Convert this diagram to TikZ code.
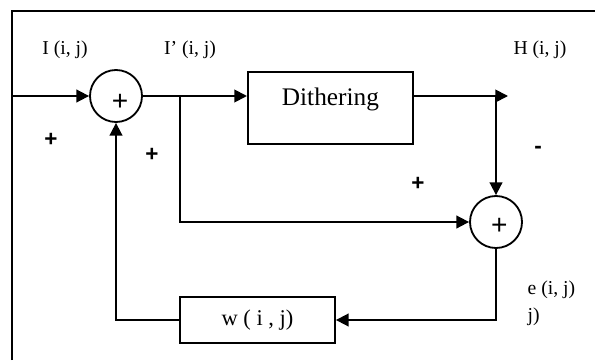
\documentclass[tikz,border=0pt]{standalone}
\usepackage{fontspec}
\setmainfont{Liberation Serif}
\newfontfamily\signfont{Liberation Sans}
\usetikzlibrary{arrows.meta}

\begin{document}
\begin{tikzpicture}[>={Triangle[length=9pt,width=9pt]},line width=1.3pt,
    sum/.style={draw,circle,minimum size=1.3cm,inner sep=0pt},
    blk/.style={draw,inner sep=0pt},
    lab/.style={font=\fontsize{14}{16}\selectfont},
    sgn/.style={font=\signfont\fontsize{20}{22}\selectfont},
    bsgn/.style={font=\signfont\bfseries\fontsize{16}{18}\selectfont}]
    \useasboundingbox (0,0) rectangle (14.875,9);
    % 边框
    \draw (0.3,0) -- (0.3,8.725) -- (14.875,8.725);

    % 加法器
    \node[sum] (s1) at (2.9,6.6) {};
    \node[sum] (s2) at (12.4,3.45) {};
    \node[sgn] (p1) at (3.0,6.45) {+};
    \node[sgn] (p2) at (12.48,3.35) {+};

    % 方框
    \node[blk,anchor=north west,minimum width=4.125cm,text height=0.85cm,
        text depth=0.95cm,font=\fontsize{18}{20}\selectfont] (dith) at (6.175,7.225) {Dithering};
    \node[blk,minimum width=3.875cm,minimum height=1.15cm,
        font=\fontsize{16}{18}\selectfont] (w) at (6.4375,1.0) {w ( i , j)};

    % 连线
    \coordinate (in) at (0.3,6.6);
    \coordinate (br) at (4.5,6.6);
    \coordinate (hout) at (12.7,6.6);
    \draw[->] (in) -- (s1);
    \draw[->] (s1) -- (dith.west |- s1);
    \draw[->] (dith.east |- s1) -- (hout);
    \draw[->] (hout -| s2) -- (s2);
    \draw[->] (br) |- (s2);
    \draw[->] (s2) |- (w);
    \draw[->] (w) -| (s1);

    % 标注
    \node[lab] (lI) at (1.625,7.75) {I (i, j)};
    \node[lab] (lIp) at (4.75,7.75) {I' (i, j)};
    \node[lab] (lH) at (13.5,7.75) {H (i, j)};
    \node[lab,anchor=west] (le) at (13.05,1.75) {e (i, j)};
    \node[lab,anchor=west] (lj) at (13.05,1.075) {j)};
    \node[bsgn] (q1) at (1.275,5.5) {+};
    \node[bsgn] (q2) at (3.8,5.125) {+};
    \node[bsgn] (q3) at (10.45,4.4) {+};
    \node[bsgn] (q4) at (13.45,5.25) {-};
\end{tikzpicture}
\end{document}
